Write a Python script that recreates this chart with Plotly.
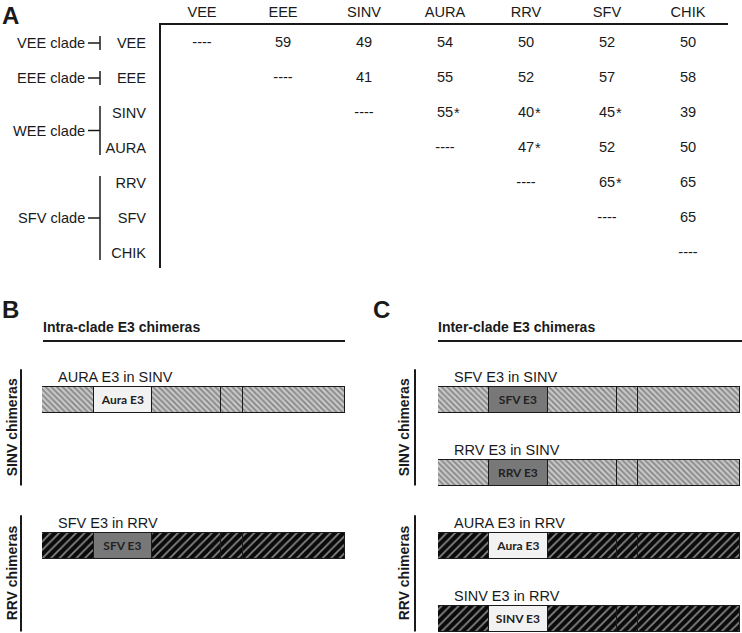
import plotly.graph_objects as go

W, H = 742, 633

# Panel A: pairwise E3 identity between alphavirus species
viruses = ['VEE', 'EEE', 'SINV', 'AURA', 'RRV', 'SFV', 'CHIK']
identity = [
    [None, 59, 49, 54, 50, 52, 50],
    [None, None, 41, 55, 52, 57, 58],
    [None, None, None, 55, 40, 45, 39],
    [None, None, None, None, 47, 52, 50],
    [None, None, None, None, None, 65, 65],
    [None, None, None, None, None, None, 65],
    [None, None, None, None, None, None, None],
]
starred = [('SINV', 'AURA'), ('SINV', 'RRV'), ('SINV', 'SFV'), ('AURA', 'RRV'), ('RRV', 'SFV')]
clades = ['VEE clade', 'EEE clade', 'WEE clade', 'SFV clade']
clade_members = [['VEE'], ['EEE'], ['SINV', 'AURA'], ['RRV', 'SFV', 'CHIK']]

# Panels B and C: structural polyprotein schematics of the chimeras
segments = ['C', 'E3', 'E2', '6K', 'E1']
segment_len = [17.0, 19.3, 22.9, 7.0, 33.8]
groups = ['SINV', 'RRV']
group_labels = ['SINV chimeras', 'RRV chimeras']
b_names = ['AURA E3 in SINV', 'SFV E3 in RRV']
b_backbone = ['SINV', 'RRV']
b_insert = ['Aura E3', 'SFV E3']
c_names = ['SFV E3 in SINV', 'RRV E3 in SINV', 'AURA E3 in RRV', 'SINV E3 in RRV']
c_backbone = ['SINV', 'SINV', 'RRV', 'RRV']
c_insert = ['SFV E3', 'RRV E3', 'Aura E3', 'SINV E3']

backbone_style = {
    'SINV': dict(bg='#c8c8c8', fg='#f8f8f8', shape='\\', size=4, solidity=0.45),
    'RRV': dict(bg='#0a0a0a', fg='#f4f4f4', shape='/', size=6, solidity=0.3),
}
insert_fill = {'Aura E3': '#f2f2f2', 'SINV E3': '#f2f2f2', 'SFV E3': '#787878', 'RRV E3': '#787878'}

FONT = 'Liberation Sans, Arial, sans-serif'
INK = '#1a1a1a'
FS = 14.6


def px(x):
    return x / W


def py(y):
    return 1 - y / H


fig = go.Figure()

# ---- Panel A table
tx, ty, tt = [], [], []
for i, row in enumerate(identity):
    for j, v in enumerate(row):
        if j < i:
            continue
        tx.append(viruses[j])
        ty.append(viruses[i])
        tt.append('----' if j == i else str(v))
fig.add_trace(go.Scatter(x=tx, y=ty, text=tt, mode='text', textposition='middle center',
                         textfont=dict(family=FONT, size=FS, color=INK),
                         hoverinfo='skip', showlegend=False, xaxis='x', yaxis='y'))

annotations = []
shapes = []
for r, c in starred:
    annotations.append(dict(x=viruses.index(c), y=viruses.index(r), xref='x', yref='y', text='*',
                            showarrow=False, xanchor='left', yanchor='middle', xshift=6.5,
                            font=dict(family=FONT, size=FS, color=INK)))

for name, members in zip(clades, clade_members):
    i0 = viruses.index(members[0])
    i1 = viruses.index(members[-1])
    mid = (i0 + i1) / 2
    shapes.append(dict(type='line', xref='paper', yref='y', x0=px(100), x1=px(100),
                       y0=i0 - 0.2, y1=i1 + 0.2, line=dict(color=INK, width=1.5)))
    shapes.append(dict(type='line', xref='paper', yref='y', x0=px(88), x1=px(100),
                       y0=mid, y1=mid, line=dict(color=INK, width=1.5)))
    annotations.append(dict(x=px(87), y=mid, xref='paper', yref='y', text=name, showarrow=False,
                            xanchor='right', yanchor='middle',
                            font=dict(family=FONT, size=FS, color=INK)))


# ---- Panels B and C schematics
def add_schematic(names, backbone, insert, xa, ya):
    slots = []
    seen = {}
    for b in backbone:
        k = seen.get(b, 0)
        slots.append(groups.index(b) * 2 + k)
        seen[b] = k + 1
    for seg, L in zip(segments, segment_len):
        colors, shapes_, fgs, bgs, sizes, sols, texts = [], [], [], [], [], [], []
        for b, ins in zip(backbone, insert):
            st = backbone_style[b]
            if seg == 'E3':
                colors.append(insert_fill[ins])
                shapes_.append('')
                fgs.append(insert_fill[ins])
                bgs.append(insert_fill[ins])
                texts.append(ins)
            else:
                colors.append(st['bg'])
                shapes_.append(st['shape'])
                fgs.append(st['fg'])
                bgs.append(st['bg'])
                texts.append('')
            sizes.append(st['size'])
            sols.append(st['solidity'])
        fig.add_trace(go.Bar(
            x=[L] * len(names), y=slots, orientation='h', width=0.36,
            marker=dict(color=colors, line=dict(color=INK, width=1.3),
                        pattern=dict(shape=shapes_, fgcolor=fgs, bgcolor=bgs, size=sizes,
                                     solidity=sols)),
            text=texts, textposition='inside', insidetextanchor='middle', textangle=0,
            textfont=dict(family='Lato, sans-serif', size=12, color='#222222', weight='bold'),
            hoverinfo='skip', showlegend=False, xaxis=xa, yaxis=ya))
    for nm, s in zip(names, slots):
        annotations.append(dict(x=0, y=s, xref=xa, yref=ya, text=nm, showarrow=False,
                                xanchor='left', yanchor='middle', xshift=14, yshift=23,
                                font=dict(family=FONT, size=14.5, color=INK)))


add_schematic(b_names, b_backbone, b_insert, 'x2', 'y2')
add_schematic(c_names, c_backbone, c_insert, 'x3', 'y3')

for ya, lx, labx in [('y2', 21, 12), ('y3', 415, 404)]:
    for g, lab in enumerate(group_labels):
        y0 = 2 * g - 0.42
        y1 = 2 * g + 1 + 0.17
        shapes.append(dict(type='line', xref='paper', yref=ya, x0=px(lx), x1=px(lx),
                           y0=y0, y1=y1, line=dict(color=INK, width=2)))
        annotations.append(dict(x=px(labx), y=(y0 + y1) / 2, xref='paper', yref=ya,
                                text='<b>%s</b>' % lab, textangle=-90, showarrow=False,
                                xanchor='center', yanchor='middle',
                                font=dict(family=FONT, size=14, color=INK)))

# titles and panel letters
for t, x0, x1 in [('Intra-clade E3 chimeras', 43, 345), ('Inter-clade E3 chimeras', 438, 742)]:
    annotations.append(dict(x=px(x0 - 2), y=py(327), xref='paper', yref='paper', text='<b>%s</b>' % t,
                            showarrow=False, xanchor='left', yanchor='middle',
                            font=dict(family=FONT, size=14, color=INK)))
    shapes.append(dict(type='line', xref='paper', yref='paper', x0=px(x0), x1=px(x1),
                       y0=py(341), y1=py(341), line=dict(color=INK, width=2)))

for letter, x, y in [('A', 0, 15), ('B', 0, 309), ('C', 371, 309)]:
    annotations.append(dict(x=px(x), y=py(y), xref='paper', yref='paper', text='<b>%s</b>' % letter,
                            showarrow=False, xanchor='left', yanchor='middle',
                            font=dict(family=FONT, size=24, color=INK)))

col_w = 81.0
row_h = 35.0
slot_h = 73.0
y_slot_range = [(H - 400) / slot_h, (355 - 400) / slot_h]

fig.update_layout(
    width=W, height=H, margin=dict(l=0, r=0, t=0, b=0),
    paper_bgcolor='white', plot_bgcolor='white', barmode='stack', bargap=0,
    xaxis=dict(domain=[px(161), px(728)], type='category', categoryorder='array', categoryarray=viruses,
               range=[(161 - 202) / col_w, (728 - 202) / col_w], side='top', anchor='y',
               showline=True, linecolor=INK, linewidth=2, showgrid=False, zeroline=False, ticks='',
               ticklen=0, ticklabelstandoff=0, tickfont=dict(family=FONT, size=FS, color=INK)),
    yaxis=dict(domain=[py(268), py(25)], type='category', categoryorder='array', categoryarray=viruses,
               range=[(268 - 43) / row_h, (25 - 43) / row_h], anchor='x',
               showline=True, linecolor=INK, linewidth=2, showgrid=False, zeroline=False, ticks='',
               ticklen=0, ticklabelstandoff=10, tickfont=dict(family=FONT, size=FS, color=INK)),
    xaxis2=dict(domain=[px(42), px(345)], range=[0, 100], visible=False, anchor='y2'),
    yaxis2=dict(domain=[0, py(355)], range=y_slot_range, visible=False, anchor='x2'),
    xaxis3=dict(domain=[px(438), px(740)], range=[0, 100], visible=False, anchor='y3'),
    yaxis3=dict(domain=[0, py(355)], range=y_slot_range, visible=False, anchor='x3'),
    shapes=shapes, annotations=annotations,
)

fig.write_html("out.html", config={'displayModeBar': False},
               post_script="document.body.style.margin='0';")
